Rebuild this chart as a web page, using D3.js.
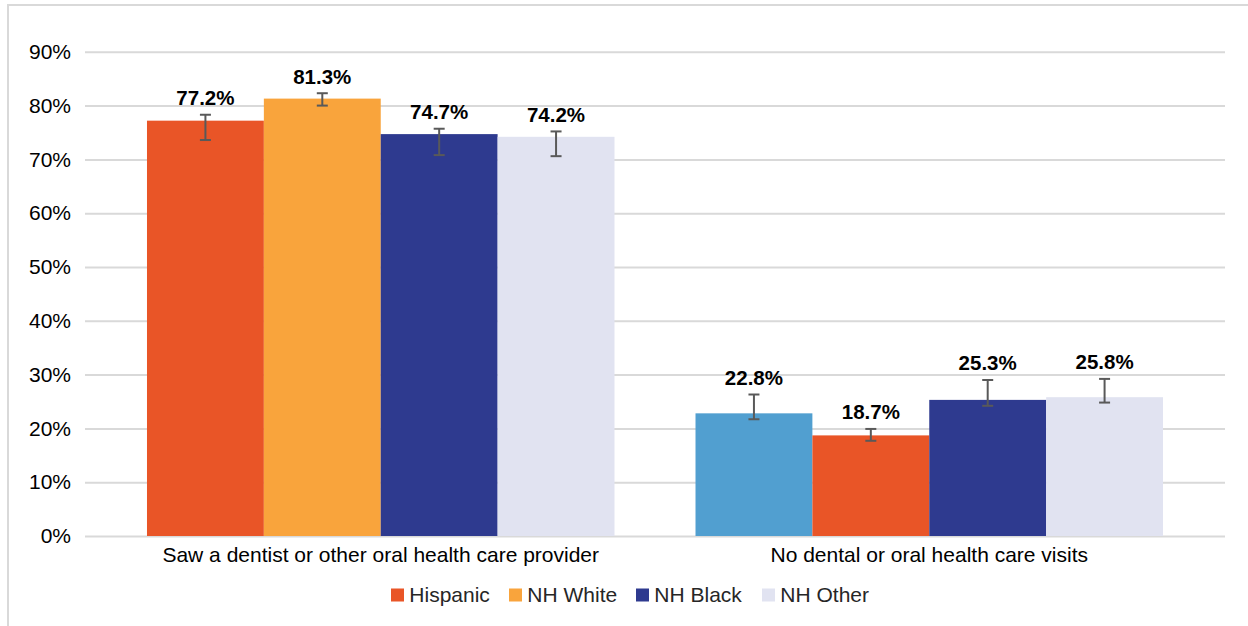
<!DOCTYPE html>
<html>
<head>
<meta charset="utf-8">
<script src="https://cdn.jsdelivr.net/npm/d3@7"></script>
<style>
  html, body { margin: 0; padding: 0; background: #fff; }
  svg { display: block; font-family: "Liberation Sans", Arial, sans-serif; }
</style>
</head>
<body>
<svg id="chart" width="1248" height="626"></svg>
<script>
// Dental visit outcomes by race/ethnicity
const categories = ["Saw a dentist or other oral health care provider", "No dental or oral health care visits"];
const groups = ["Hispanic", "NH White", "NH Black", "NH Other"];
const values = [
  [77.2, 81.3, 74.7, 74.2],
  [22.8, 18.7, 25.3, 25.8]
];
const errLow = [
  [73.6, 80.0, 70.8, 70.6],
  [21.7, 17.7, 24.2, 24.8]
];
const errHigh = [
  [78.3, 82.3, 75.7, 75.2],
  [26.3, 19.9, 29.0, 29.2]
];
const groupColors = ["#E95527", "#F9A43C", "#2E3A8F", "#E1E3F1"];
// fill used for each bar, per category
const barColors = [
  ["#E95527", "#F9A43C", "#2E3A8F", "#E1E3F1"],
  ["#519FD0", "#E95527", "#2E3A8F", "#E1E3F1"]
];
const yTicks = [0, 10, 20, 30, 40, 50, 60, 70, 80, 90];

const svg = d3.select("#chart");

// frame
svg.append("rect")
  .attr("x", 8).attr("y", 5)
  .attr("width", 1300).attr("height", 700)
  .attr("fill", "none").attr("stroke", "#d9d9d9").attr("stroke-width", 2);

const plotLeft = 85, plotRight = 1225;
const y = d3.scaleLinear().domain([0, 90]).range([536, 51.8]);
const x0 = d3.scaleBand().domain(categories).range([plotLeft, plotRight])
  .paddingInner(0.1477).paddingOuter(0.113);
const x1 = d3.scaleBand().domain(groups).range([0, x0.bandwidth()]);

// gridlines and value axis
const yAxis = d3.axisLeft(y).tickValues(yTicks).tickFormat(d => d + "%")
  .tickSize(-(plotRight - plotLeft)).tickPadding(14);
const gy = svg.append("g").attr("transform", `translate(${plotLeft},0)`).call(yAxis);
gy.select(".domain").remove();
gy.selectAll(".tick line").attr("stroke", "#d9d9d9").attr("stroke-width", 2);
gy.selectAll(".tick text")
  .attr("font-size", 21).attr("fill", "#000")
  .attr("font-family", "Liberation Sans, Arial, sans-serif");

// bars
const cat = svg.append("g").selectAll("g").data(categories).join("g")
  .attr("transform", d => `translate(${x0(d)},0)`);

cat.each(function(c, ci) {
  const g = d3.select(this);
  const rows = groups.map((gname, gi) => ({
    g: gname, v: values[ci][gi], lo: errLow[ci][gi], hi: errHigh[ci][gi], color: barColors[ci][gi]
  }));
  g.selectAll("rect").data(rows).join("rect")
    .attr("x", d => x1(d.g))
    .attr("width", x1.bandwidth())
    .attr("y", d => y(d.v))
    .attr("height", d => y(0) - y(d.v))
    .attr("fill", d => d.color);

  const eb = g.selectAll("g.err").data(rows).join("g").attr("class", "err")
    .attr("stroke", "#595959").attr("stroke-width", 2);
  const cx = d => x1(d.g) + x1.bandwidth() / 2;
  eb.append("line").attr("x1", cx).attr("x2", cx)
    .attr("y1", d => y(d.lo)).attr("y2", d => y(d.hi));
  eb.append("line").attr("x1", d => cx(d) - 5.5).attr("x2", d => cx(d) + 5.5)
    .attr("y1", d => y(d.lo)).attr("y2", d => y(d.lo));
  eb.append("line").attr("x1", d => cx(d) - 5.5).attr("x2", d => cx(d) + 5.5)
    .attr("y1", d => y(d.hi)).attr("y2", d => y(d.hi));

  g.selectAll("text.val").data(rows).join("text").attr("class", "val")
    .attr("x", cx)
    .attr("y", d => y(d.hi) - 9.5)
    .attr("text-anchor", "middle")
    .attr("font-size", 20.5).attr("font-weight", "bold").attr("fill", "#000")
    .text(d => d.v.toFixed(1) + "%");
});

// category axis labels
svg.append("g").selectAll("text").data(categories).join("text")
  .attr("x", d => x0(d) + x0.bandwidth() / 2)
  .attr("y", 561.5)
  .attr("text-anchor", "middle")
  .attr("font-size", 21).attr("fill", "#000")
  .text(d => d);

// legend
const legendX = [391, 509, 636, 762];
const lg = svg.append("g").selectAll("g").data(groups).join("g")
  .attr("transform", (d, i) => `translate(${legendX[i]},588.5)`);
lg.append("rect").attr("width", 13).attr("height", 13).attr("fill", (d, i) => groupColors[i]);
lg.append("text").attr("x", 18.3).attr("y", 13.2)
  .attr("font-size", 21).attr("fill", "#262626")
  .text(d => d);
</script>
</body>
</html>
